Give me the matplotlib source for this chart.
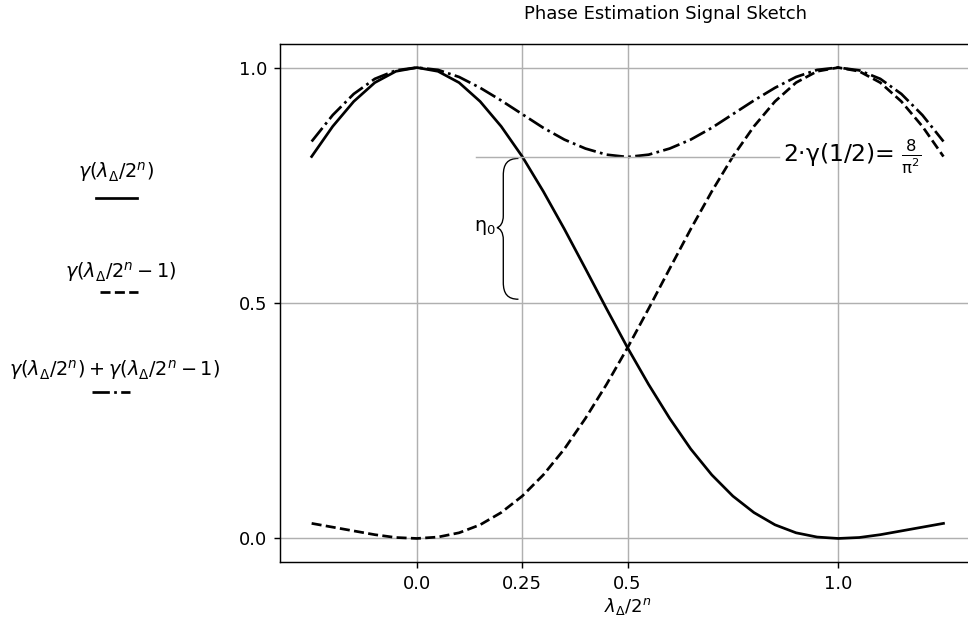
import matplotlib.pyplot as plt
from matplotlib.lines import Line2D
from matplotlib.path import Path
from matplotlib.patches import PathPatch

# ===============================
# DATOS
# ===============================
x = [-0.25, -0.20, -0.15, -0.10, -0.05, 0.00, 0.05, 0.10, 0.15, 0.20,
     0.25, 0.30, 0.35, 0.40, 0.45, 0.50, 0.55, 0.60, 0.65, 0.70,
     0.75, 0.80, 0.85, 0.90, 0.95, 1.00, 1.05, 1.10, 1.15, 1.20, 1.25]

gamma_0 = [0.811, 0.875, 0.928, 0.968, 0.992, 1.000, 0.992, 0.968, 0.928, 0.875,
           0.811, 0.737, 0.657, 0.573, 0.488, 0.405, 0.327, 0.255, 0.190, 0.135,
           0.090, 0.055, 0.029, 0.012, 0.003, 0.000, 0.002, 0.008, 0.016, 0.024, 0.032]

gamma_1 = [0.032, 0.024, 0.016, 0.008, 0.002, 0.000, 0.003, 0.012, 0.029, 0.055,
           0.090, 0.135, 0.190, 0.255, 0.327, 0.405, 0.488, 0.573, 0.657, 0.737,
           0.811, 0.875, 0.928, 0.968, 0.992, 1.000, 0.992, 0.968, 0.928, 0.875, 0.811]

gamma_sum = [0.843, 0.899, 0.944, 0.976, 0.994, 1.000, 0.995, 0.980, 0.957, 0.930,
             0.901, 0.872, 0.847, 0.828, 0.815, 0.810, 0.815, 0.828, 0.847, 0.872,
             0.901, 0.930, 0.957, 0.980, 0.995, 1.000, 0.994, 0.976, 0.944, 0.899, 0.843]

etiquetas = [r"$\gamma(\lambda_\Delta/2^n)$",
             r"$\gamma(\lambda_\Delta/2^n - 1)$",
             r"$\gamma(\lambda_\Delta/2^n) + \gamma(\lambda_\Delta/2^n - 1)$"]
estilos = ["-", "--", "-."]

xticks = [0.0, 0.25, 0.5, 1.0]
xticklabels = ["0.0", "0.25", "0.5", "1.0"]
yticks = [0.0, 0.5, 1.0]
yticklabels = ["0.0", "0.5", "1.0"]

nivel = 0.81  # 8/pi^2

# ===============================
# FIGURA
# ===============================
DPI = 130
fig = plt.figure(figsize=(968 / DPI, 625 / DPI), dpi=DPI)
ax = fig.add_axes([0.2893, 0.1008, 0.718, 0.8288])

for serie, ls in zip([gamma_0, gamma_1, gamma_sum], estilos):
    ax.plot(x, serie, color="black", linestyle=ls, linewidth=1.5)

ax.set_xticks(xticks)
ax.set_xticklabels(xticklabels)
ax.set_yticks(yticks)
ax.set_yticklabels(yticklabels)
ax.grid(True)
ax.set_xlabel(r"$\lambda_\Delta/2^n$", labelpad=2)
ax.set_title("Phase Estimation Signal Sketch", fontsize=10, pad=14, x=0.554)

# linea horizontal 8/pi^2
ax.plot([0.14, 0.86], [nivel, nivel], color="#b0b0b0", linewidth=0.8)
ax.text(0.868, nivel, r"2·γ(1/2)= $\frac{8}{\mathrm{\pi}^2}$", fontsize=13,
        va="center", ha="left")

# llave eta_0
verts = [(0.241, 0.807), (0.215, 0.807), (0.205, 0.795), (0.205, 0.771),
         (0.205, 0.686),
         (0.205, 0.670), (0.198, 0.662), (0.190, 0.660),
         (0.198, 0.658), (0.205, 0.650), (0.205, 0.634),
         (0.205, 0.544),
         (0.205, 0.520), (0.215, 0.508), (0.241, 0.508)]
codes = [Path.MOVETO, Path.CURVE4, Path.CURVE4, Path.CURVE4,
         Path.LINETO,
         Path.CURVE4, Path.CURVE4, Path.CURVE4,
         Path.CURVE4, Path.CURVE4, Path.CURVE4,
         Path.LINETO,
         Path.CURVE4, Path.CURVE4, Path.CURVE4]
ax.add_patch(PathPatch(Path(verts, codes), facecolor="none",
                       edgecolor="black", linewidth=0.75))
ax.text(0.186, 0.66, r"η$_{\mathregular{0}}$", fontsize=10.5, va="center", ha="right")

# leyenda a la izquierda
pos_texto = [(0.1198, 0.7248), (0.1250, 0.5648), (0.1188, 0.4080)]
pos_linea = [(0.0992, 0.1415, 0.6832), (0.1033, 0.1426, 0.5328), (0.0950, 0.1340, 0.3728)]
for etq, ls, (tx, ty), (x0, x1, ly) in zip(etiquetas, estilos, pos_texto, pos_linea):
    fig.text(tx, ty, etq, ha="center", va="center", fontsize=10.7)
    fig.add_artist(Line2D([x0, x1], [ly, ly], color="black", linestyle=ls,
                          linewidth=1.5, transform=fig.transFigure))

fig.savefig("out.png", dpi=DPI)
